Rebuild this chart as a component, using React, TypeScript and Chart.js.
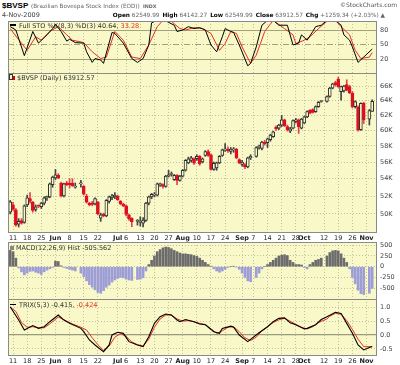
import { useEffect, useRef } from 'react';
import { Chart, registerables } from 'chart.js';

Chart.register(...registerables);

// ---------------- categories ----------------
const FIRST_DAY = '2009-05-08';
const LAST_DAY = '2009-11-04';
const HOLIDAYS = ['2009-06-11', '2009-07-09', '2009-09-07', '2009-10-12', '2009-11-02'];

const TICK_DATES = [
  '2009-05-11', '2009-05-18', '2009-05-25', '2009-06-01', '2009-06-08', '2009-06-15', '2009-06-22',
  '2009-07-01', '2009-07-06', '2009-07-13', '2009-07-20', '2009-07-27', '2009-08-03', '2009-08-10',
  '2009-08-17', '2009-08-24', '2009-09-01', '2009-09-07', '2009-09-14', '2009-09-21', '2009-09-28',
  '2009-10-01', '2009-10-12', '2009-10-19', '2009-10-26', '2009-11-02',
];
const TICK_LABELS = [
  '11', '18', '25', 'Jun', '8', '15', '22', 'Jul', '6', '13', '20', '27', 'Aug', '10',
  '17', '24', 'Sep', '7', '14', '21', '28', 'Oct', '12', '19', '26', 'Nov',
];

// ---------------- price series (one entry per trading day) ----------------
const OPEN = [
  50200, 51000, 50450, 48900, 49300, 49100, 51000, 51700, 51300, 50500,
  50900, 50800, 51200, 51800, 51900, 53300, 54100, 54400, 53500, 52000,
  53500, 53500, 53500, 53000, 53400, 53100, 52000, 51200, 51200, 51100,
  51300, 49550, 49950, 49800, 51400, 51800, 51900, 52000, 51400, 51100,
  50900, 49900, 49530, 49200, 49100, 49000, 49300, 51200, 51900, 52100,
  52100, 53300, 53300, 53100, 54300, 54500, 53900, 54400, 53800, 54300,
  55000, 55900, 56200, 56400, 56400, 56700, 56000, 56800, 57300, 56900,
  55100, 55300, 55900, 56800, 57500, 57600, 57300, 57500, 57600, 56300,
  55700, 55700, 55400, 56500, 56700, 57800, 57700, 58500, 58400, 58800,
  59200, 60400, 60300, 60700, 61400, 60500, 59900, 60300, 61200, 61400,
  60300, 61000, 61800, 62700, 62800, 62500, 63200, 63900, 63900, 64600,
  65800, 66600, 67100, 65300, 65400, 66300, 66000, 65100, 63200, 63100,
  60100, 63650, 61500, 62549.99,
];
const HIGH = [
  51500, 51300, 50600, 49500, 49500, 51000, 52100, 52400, 51400, 51000,
  51000, 51300, 51900, 52000, 53500, 54300, 55100, 54600, 53600, 53500,
  53700, 54000, 54000, 53500, 53800, 53200, 52200, 51300, 51400, 51800,
  51400, 50100, 50100, 51600, 52000, 52200, 52400, 52100, 51500, 51200,
  51000, 50000, 49600, 49400, 49700, 49600, 51300, 52000, 52300, 52400,
  53500, 53500, 53400, 54400, 55000, 54800, 54500, 54500, 54400, 55100,
  56300, 56600, 56700, 56500, 56900, 56800, 56500, 57400, 57500, 57000,
  56000, 56000, 56800, 57600, 58300, 57900, 57800, 57800, 57700, 56400,
  56200, 55800, 56600, 56900, 57900, 58100, 58600, 58700, 59000, 59500,
  59900, 60600, 60800, 62000, 61500, 60700, 60400, 61400, 61600, 61500,
  61600, 61900, 62600, 62800, 62900, 63300, 63900, 64000, 64700, 65900,
  66500, 66800, 67400, 66100, 66200, 67000, 66200, 65300, 64000, 63300,
  63700, 63800, 62800, 64142.27,
];
const LOW = [
  50000, 50400, 48700, 48600, 48900, 49000, 50800, 51200, 50200, 50300,
  50700, 50600, 51000, 51500, 51800, 53000, 53900, 54000, 51900, 51900,
  53200, 52900, 53100, 52900, 53000, 52100, 51200, 50900, 50900, 51000,
  49900, 49200, 49700, 49700, 51200, 51600, 51700, 51500, 51000, 50800,
  49800, 49300, 48640, 48800, 48700, 48600, 49200, 51000, 51700, 51900,
  52000, 53100, 52900, 53000, 54200, 54300, 53800, 53300, 53700, 54200,
  54900, 55800, 56000, 55700, 56200, 55600, 55900, 56700, 56700, 55000,
  55000, 55000, 55800, 56700, 57300, 57200, 57000, 57200, 56400, 55800,
  55500, 55200, 55300, 56300, 56600, 57600, 57500, 58100, 57800, 58600,
  59100, 60000, 60100, 60500, 60500, 59900, 59700, 60200, 61000, 59600,
  60200, 60900, 61700, 62200, 62300, 62400, 63100, 63800, 63800, 64500,
  65700, 66100, 65900, 64100, 65200, 65400, 65000, 63000, 63000, 59900,
  60000, 60900, 60700, 62549.99,
];
const CLOSE = [
  51350, 50500, 48800, 49200, 49000, 50900, 51800, 51400, 50400, 50800,
  50850, 51200, 51800, 51950, 53400, 54200, 54450, 54100, 52000, 53400,
  53300, 53300, 53200, 53150, 53500, 52200, 51300, 51000, 51050, 51700,
  50000, 49900, 49800, 51500, 51900, 52000, 52100, 51600, 51100, 50900,
  49950, 49500, 49170, 49200, 49150, 49350, 51200, 51900, 52200, 52200,
  53400, 53400, 53100, 54300, 54450, 54550, 54400, 53800, 54300, 55000,
  56200, 56400, 56500, 55850, 56700, 55800, 56400, 57300, 56800, 55100,
  55850, 55900, 56700, 57500, 57550, 57400, 57600, 57550, 56500, 55900,
  56000, 55400, 56500, 56700, 57800, 57950, 58500, 58300, 58900, 59400,
  59800, 60200, 60700, 61400, 60600, 60100, 60200, 61300, 61400, 60500,
  61500, 61800, 62500, 62300, 62400, 63200, 63800, 63900, 64600, 65800,
  66400, 66300, 66000, 66000, 66100, 65500, 65100, 63200, 63900, 60050,
  63650, 61400, 62653.23, 63912.57,
];

// MACD histogram, one value per trading day
const MACD_HIST = [
  380, 350, 200, -30, -120, -190, -150, -110, -100, -130, -150, -180, -120, -80, -50, -20, 130, 120, 20, -20, -40, -60, -80, -100,
  -150, -230, -330, -420, -480, -540, -600, -620, -560, -480, -430, -360, -310, -270, -250, -260, -290, -310, -320,
  -300, -290, -260, -100, 50, 150, 250, 350, 400, 440, 460, 450, 420, 380, 350, 320, 300, 300, 290, 280, 260, 240, 200, 150, 100, 50, 10,
  -50, -100, -130, -100, -60, -20, 0, 10, -10, -60, -150, -250, -330, -350,
  -250, -150, -50, 0, 50, 100, 150, 200, 250, 270, 280, 260, 150, 100, 50, 50, 40, -20, -50, 50, 100, 150, 170, 200,
  250, 330, 370, 380, 370, 300, 200, 100, -50, -250, -400, -550, -630, -650,
  -620, -505.562,
];

// Full STO %K (black) and %D (red): trading-day index and value
const STO_K_DAY = [0, 2, 5, 8, 10, 13, 15, 16, 18, 20, 21, 23, 25, 26, 28, 29, 31, 32, 35, 36, 39, 42, 43, 45, 47, 48, 50, 53, 56, 57, 59, 61, 63, 65, 67, 69, 71, 73, 74, 76, 77, 79, 82, 83, 84, 86, 88, 90, 92, 95, 97, 99, 100, 102, 104, 105, 107, 108, 111, 113, 114, 116, 117, 119, 121, 123];
const STO_K = [87, 80, 27, 77, 53, 70, 83, 92, 77, 57, 61, 54, 53, 35, 13, 21, 18, 11, 75, 73, 53, 21, 13, 21, 49, 95, 100, 99, 90, 77, 80, 87, 83, 85, 80, 49, 35, 66, 83, 77, 75, 49, 6, 11, 45, 90, 100, 100, 90, 90, 49, 53, 70, 59, 77, 87, 90, 100, 100, 90, 70, 59, 45, 13, 24, 40.64];
const STO_D_DAY = [0, 3, 6, 9, 11, 14, 17, 20, 22, 25, 28, 31, 33, 36, 39, 42, 44, 47, 50, 52, 55, 58, 60, 63, 66, 69, 72, 74, 76, 78, 80, 83, 84, 87, 90, 94, 97, 98, 101, 103, 106, 108, 111, 113, 116, 118, 120, 122, 123];
const STO_D = [83, 60, 38, 66, 59, 77, 87, 70, 59, 54, 35, 21, 24, 77, 59, 24, 21, 49, 87, 100, 98, 83, 80, 85, 83, 73, 38, 52, 77, 73, 45, 11, 28, 77, 100, 83, 70, 52, 59, 66, 83, 98, 100, 87, 70, 38, 21, 24, 33.28];

// TRIX(5,3) (black) and signal (red)
const TRIX_DAY = [0, 3, 5, 8, 10, 12, 14, 17, 19, 21, 24, 25, 27, 29, 32, 34, 35, 37, 39, 41, 43, 45, 47, 49, 51, 53, 55, 57, 58, 60, 63, 65, 67, 70, 72, 73, 76, 77, 79, 82, 83, 85, 88, 90, 92, 94, 96, 98, 101, 102, 105, 107, 108, 111, 113, 115, 117, 119, 121, 122, 123];
const TRIX = [1.02, 0.54, 0.18, 0.34, 0.24, 0.30, 0.48, 0.72, 0.54, 0.42, 0.24, 0.12, -0.18, -0.36, -0.60, -0.36, 0.0, 0.10, 0.06, -0.24, -0.36, -0.42, -0.06, 0.42, 0.66, 0.76, 0.72, 0.54, 0.48, 0.56, 0.48, 0.40, 0.37, 0.12, 0.06, 0.24, 0.32, 0.28, 0.0, -0.24, -0.16, 0.08, 0.30, 0.48, 0.60, 0.62, 0.44, 0.37, 0.22, 0.24, 0.37, 0.56, 0.66, 0.82, 0.78, 0.42, 0.06, -0.36, -0.54, -0.45, -0.415];
const TRIX_SIG_DAY = [0, 2, 4, 6, 8, 10, 12, 14, 17, 19, 22, 24, 26, 28, 30, 32, 34, 36, 38, 40, 42, 43, 45, 47, 49, 51, 53, 55, 57, 59, 61, 63, 65, 67, 69, 71, 73, 75, 77, 79, 81, 83, 84, 86, 88, 90, 92, 94, 96, 98, 100, 102, 104, 106, 108, 109, 111, 113, 115, 117, 119, 121, 122, 123];
const TRIX_SIG = [1.0, 0.85, 0.45, 0.28, 0.30, 0.26, 0.26, 0.40, 0.65, 0.55, 0.40, 0.28, 0.18, -0.10, -0.35, -0.55, -0.40, -0.08, 0.05, -0.05, -0.25, -0.35, -0.40, -0.15, 0.28, 0.58, 0.72, 0.72, 0.58, 0.50, 0.52, 0.48, 0.42, 0.38, 0.22, 0.06, 0.15, 0.28, 0.30, 0.12, -0.10, -0.20, -0.08, 0.15, 0.30, 0.45, 0.55, 0.60, 0.50, 0.38, 0.28, 0.22, 0.30, 0.45, 0.58, 0.68, 0.78, 0.75, 0.52, 0.20, -0.15, -0.42, -0.42, -0.424];

// axis tick values
const PRICE_TICKS = [50000, 52000, 54000, 56000, 58000, 60000, 62000, 64000, 66000];
const STO_TICKS = [20, 50, 80];
const MACD_TICKS = [-500, -250, 0, 250, 500];
const TRIX_TICKS = [-0.5, 0, 0.5, 1.0];

// ---------------- derived slots ----------------
function weekdays(from: string, to: string): string[] {
  const [fy, fm, fd] = from.split('-').map(Number);
  const [ty, tm, td] = to.split('-').map(Number);
  const end = Date.UTC(ty, tm - 1, td);
  const out: string[] = [];
  for (let t = Date.UTC(fy, fm - 1, fd); t <= end; t += 86400000) {
    const d = new Date(t);
    const wd = d.getUTCDay();
    if (wd !== 0 && wd !== 6) out.push(d.toISOString().slice(0, 10));
  }
  return out;
}
const SLOT_DATES = weekdays(FIRST_DAY, LAST_DAY);
const TRADE_SLOT = SLOT_DATES.map((d, i) => (HOLIDAYS.includes(d) ? -1 : i)).filter((i) => i >= 0);
const TICK_SLOT = TICK_DATES.map((d) => SLOT_DATES.indexOf(d));

// ---------------- look ----------------
const FONT = '"DejaVu Sans", Verdana, sans-serif';
const YELLOW = '#f9f8c9';
const GRID = 'rgba(110,110,90,0.40)';
const LEVEL = '#a3a27a';
const FRAME = '#8a8a8a';
const RED = '#e8301f';
const X_MIN = -0.78;
const X_MAX = 129.7;
const AXIS_W = 23;
const LEFT = 8;

const panelPlugin = {
  id: 'panel',
  beforeDraw(chart: any) {
    const { ctx, chartArea: a } = chart;
    ctx.save();
    ctx.fillStyle = YELLOW;
    ctx.fillRect(a.left, a.top, a.right - a.left, a.bottom - a.top);
    ctx.restore();
  },
  afterDraw(chart: any) {
    const { ctx, chartArea: a } = chart;
    ctx.save();
    ctx.strokeStyle = FRAME;
    ctx.lineWidth = 1;
    ctx.strokeRect(a.left + 0.5, a.top + 0.5, a.right - a.left - 1, a.bottom - a.top - 1);
    ctx.restore();
  },
};

function xAxis(labels: boolean) {
  return {
    type: 'linear',
    min: X_MIN,
    max: X_MAX,
    offset: false,
    afterBuildTicks: (s: any) => {
      s.ticks = TICK_SLOT.map((v) => ({ value: v }));
    },
    ticks: {
      display: labels,
      autoSkip: false,
      maxRotation: 0,
      minRotation: 0,
      padding: 1,
      color: '#222',
      callback: (_v: any, i: number) => TICK_LABELS[i],
      font: (c: any) => ({
        family: FONT,
        size: 6.5,
        weight: /[A-Z]/.test(TICK_LABELS[c.index] || '') ? 'bold' : 'normal',
      }),
    },
    grid: { color: GRID, lineWidth: 1, drawTicks: false, offset: false },
    border: { display: false, dash: [1, 2] },
    afterFit: (s: any) => {
      s.height = labels ? 9 : 0;
      s.paddingLeft = 0;
      s.paddingRight = 0;
    },
  };
}

function yAxis(o: any) {
  return {
    type: o.type || 'linear',
    position: 'right',
    min: o.min,
    max: o.max,
    beginAtZero: false,
    afterBuildTicks: (s: any) => {
      s.ticks = o.ticks.map((v: number) => ({ value: v }));
    },
    ticks: {
      autoSkip: false,
      padding: 3,
      color: '#444',
      font: { family: FONT, size: 6.5 },
      callback: o.label,
    },
    grid: { color: o.gridColor || GRID, lineWidth: o.gridWidth || 1, drawTicks: false },
    border: { display: false, dash: o.dash || [1, 2] },
    afterFit: (s: any) => {
      s.width = AXIS_W;
      s.paddingTop = 0;
      s.paddingBottom = 0;
    },
  };
}

function baseOptions(scales: any) {
  return {
    responsive: false,
    animation: false,
    devicePixelRatio: 1,
    events: [],
    layout: { padding: { left: LEFT, right: 0, top: 0, bottom: 0 } },
    plugins: { legend: { display: false }, tooltip: { enabled: false } },
    scales,
  };
}

function pts(days: number[], vals: number[]) {
  return days.map((d, i) => ({ x: TRADE_SLOT[d], y: vals[i] }));
}

function stoConfig(): any {
  return {
    type: 'line',
    data: {
      datasets: [
        { data: pts(STO_K_DAY, STO_K), borderColor: '#000', borderWidth: 1, pointRadius: 0, tension: 0 },
        { data: pts(STO_D_DAY, STO_D), borderColor: RED, borderWidth: 1, pointRadius: 0, tension: 0 },
      ],
    },
    options: baseOptions({
      x: xAxis(false),
      y: yAxis({
        min: -11,
        max: 98.7,
        ticks: STO_TICKS,
        label: (v: number) => String(v),
        gridColor: LEVEL,
        dash: (c: any) => (c.tick && c.tick.value === 50 ? [6, 2, 1, 2] : []),
      }),
    }),
    plugins: [panelPlugin],
  };
}

function priceConfig(): any {
  const up = CLOSE.map((c, i) => c >= OPEN[i]);
  const wicks = TRADE_SLOT.map((s, i) => ({ x: s, y: [LOW[i], HIGH[i]] }));
  const bodies = TRADE_SLOT.map((s, i) => {
    const lo = Math.min(OPEN[i], CLOSE[i]);
    const hi = Math.max(OPEN[i], CLOSE[i], lo * 1.0022);
    return { x: s, y: [lo, hi] };
  });
  return {
    type: 'line',
    data: {
      datasets: [
        {
          type: 'bar',
          data: bodies,
          barThickness: 3,
          grouped: false,
          backgroundColor: up.map((u) => (u ? YELLOW : '#dc1020')),
          borderColor: up.map((u) => (u ? '#2e2e2e' : '#dc1020')),
          borderWidth: 1,
          borderSkipped: false,
          order: 1,
        },
        {
          type: 'bar',
          data: wicks,
          barThickness: 1,
          grouped: false,
          backgroundColor: up.map((u) => (u ? '#444' : '#e2424a')),
          order: 2,
        },
      ],
    },
    options: baseOptions({
      x: xAxis(true),
      y: yAxis({
        type: 'logarithmic',
        min: 47970,
        max: 68000,
        ticks: PRICE_TICKS,
        label: (v: number) => `${Math.round(v / 1000)}K`,
      }),
    }),
    plugins: [panelPlugin],
  };
}

function macdConfig(): any {
  return {
    type: 'line',
    data: {
      datasets: [
        {
          type: 'bar',
          data: TRADE_SLOT.map((s, i) => ({ x: s, y: MACD_HIST[i] })),
          barThickness: 2,
          grouped: false,
          backgroundColor: MACD_HIST.map((v) => (v >= 0 ? '#6c6c6c' : '#9d9dd8')),
        },
      ],
    },
    options: baseOptions({
      x: xAxis(false),
      y: yAxis({ min: -778, max: 577, ticks: MACD_TICKS, label: (v: number) => String(v) }),
    }),
    plugins: [panelPlugin],
  };
}

function trixConfig(): any {
  return {
    type: 'line',
    data: {
      datasets: [
        { data: pts(TRIX_DAY, TRIX), borderColor: '#000', borderWidth: 1.1, pointRadius: 0, tension: 0 },
        { data: pts(TRIX_SIG_DAY, TRIX_SIG), borderColor: RED, borderWidth: 1, pointRadius: 0, tension: 0 },
      ],
    },
    options: baseOptions({
      x: xAxis(true),
      y: yAxis({
        min: -0.758,
        max: 1.3,
        ticks: TRIX_TICKS,
        label: (v: number) => v.toFixed(1),
        gridColor: (c: any) => (c.tick && c.tick.value === 0 ? '#9a9a80' : GRID),
        gridWidth: (c: any) => (c.tick && c.tick.value === 0 ? 1.3 : 1),
        dash: (c: any) => (c.tick && c.tick.value === 0 ? [] : [1, 2]),
      }),
    }),
    plugins: [panelPlugin],
  };
}

const txt = (extra: any): any => ({
  position: 'absolute',
  fontFamily: FONT,
  fontSize: 6.5,
  lineHeight: '8px',
  whiteSpace: 'nowrap',
  color: '#333',
  ...extra,
});

const canvasStyle = (top: number, h: number): any => ({
  position: 'absolute',
  left: 0,
  top,
  width: 400,
  height: h,
});

export default function App() {
  const stoRef = useRef<HTMLCanvasElement>(null);
  const priceRef = useRef<HTMLCanvasElement>(null);
  const macdRef = useRef<HTMLCanvasElement>(null);
  const trixRef = useRef<HTMLCanvasElement>(null);

  useEffect(() => {
    const charts = [
      new Chart(stoRef.current as any, stoConfig()),
      new Chart(priceRef.current as any, priceConfig()),
      new Chart(macdRef.current as any, macdConfig()),
      new Chart(trixRef.current as any, trixConfig()),
    ];
    return () => charts.forEach((c) => c.destroy());
  }, []);

  const last = (a: number[]) => a[a.length - 1];
  const dash = (color: string) => (
    <span style={{ display: 'inline-block', width: 6, height: 1.5, background: color, verticalAlign: '2px', marginRight: 3 }} />
  );
  const lbl = { fontWeight: 'bold', color: '#000' } as any;
  const val = { color: '#666', marginRight: 3 } as any;

  return (
    <div style={{ position: 'fixed', left: 0, top: 0, width: 400, height: 365, background: '#fff', overflow: 'hidden' }}>
      <canvas ref={stoRef} width={400} height={53} style={canvasStyle(21, 53)} />
      <canvas ref={priceRef} width={400} height={169} style={canvasStyle(73, 169)} />
      <canvas ref={macdRef} width={400} height={58} style={canvasStyle(242, 58)} />
      <canvas ref={trixRef} width={400} height={66} style={canvasStyle(299, 66)} />

      <div style={txt({ left: 2, top: 0.5, fontFamily: '"Liberation Sans", Arial, sans-serif', fontSize: 8, fontWeight: 'bold', color: '#000', lineHeight: '10px' })}>$BVSP</div>
      <div style={txt({ left: 31, top: 2, color: '#666', fontSize: 5.7 })}>(Brazilian Bovespa Stock Index (EOD))</div>
      <div style={txt({ left: 143, top: 2.5, color: '#666', fontSize: 4.8, fontWeight: 'bold' })}>INDX</div>
      <div style={txt({ right: 3, top: 0.5, color: '#555', fontSize: 6 })}>©StockCharts.com</div>
      <div style={txt({ left: 2, top: 11, color: '#444' })}>4-Nov-2009</div>
      <div style={txt({ right: 15, top: 11, fontSize: 5.8 })}>
        <span style={lbl}>Open</span> <span style={val}>62549.99</span>
        <span style={lbl}>High</span> <span style={val}>64142.27</span>
        <span style={lbl}>Low</span> <span style={val}>62549.99</span>
        <span style={lbl}>Close</span> <span style={val}>63912.57</span>
        <span style={lbl}>Chg</span> <span style={{ color: '#666' }}>+1259.34 (+2.03%) ▲</span>
      </div>

      <div style={txt({ left: 10, top: 21.5 })}>
        {dash('#000')}Full STO %K(8,3) %D(3) {last(STO_K).toFixed(2)}, <span style={{ color: RED }}>{last(STO_D).toFixed(2)}</span>
      </div>
      <div style={txt({ left: 9, top: 74 })}>
        <span style={{ display: 'inline-block', width: 1.5, height: 4, border: '1px solid #333', marginRight: 0.5, verticalAlign: '0px' }} />
        <span style={{ display: 'inline-block', width: 2, height: 4, background: '#d00', marginRight: 2, verticalAlign: '0px' }} />
        $BVSP (Daily) {last(CLOSE).toFixed(2)}
      </div>
      <div style={txt({ left: 10, top: 244 })}>
        <span style={{ display: 'inline-block', width: 4, height: 4, background: '#888', marginRight: 2, verticalAlign: '0px' }} />
        MACD(12,26,9) Hist {last(MACD_HIST).toFixed(3)}
      </div>
      <div style={txt({ left: 10, top: 301 })}>
        {dash('#000')}TRIX(5,3) {last(TRIX).toFixed(3)}, <span style={{ color: RED }}>{last(TRIX_SIG).toFixed(3)}</span>
      </div>
    </div>
  );
}
